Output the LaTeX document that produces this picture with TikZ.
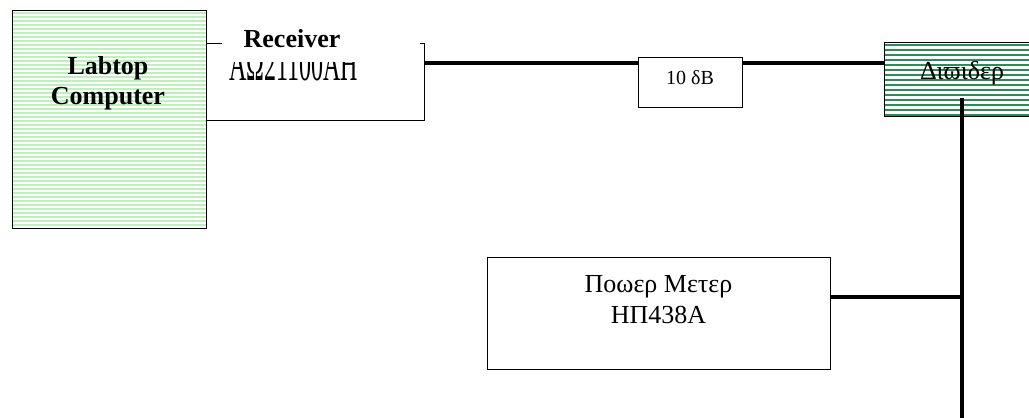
\documentclass[tikz,border=0pt]{standalone}
\usepackage{fontspec}
\setmainfont{Liberation Serif}
\usetikzlibrary{positioning}

\definecolor{verdepallido}{RGB}{190,240,190}
\definecolor{verdemare}{RGB}{46,139,87}

\begin{document}
\begin{tikzpicture}[
  x=1pt, y=-1pt,
  font=\fontsize{26}{31}\selectfont,
  box/.style={draw=black, line width=1pt, inner sep=0pt, fill=white},
  wire/.style={draw=black, line width=3.5pt},
  label/.style={inner sep=1pt, align=center},
  pcbox/.style={box, path picture={
      \foreach \k in {1,...,56}{
        \draw[verdepallido, line width=2pt]
          ([yshift={-4pt*\k+1pt}]path picture bounding box.north west) --
          ([yshift={-4pt*\k+1pt}]path picture bounding box.north east);}}},
  splitbox/.style={box, path picture={
      \foreach \k in {1,...,16}{
        \draw[verdemare, line width=2.6pt]
          ([yshift={-5pt*\k+2pt}]path picture bounding box.north west) --
          ([yshift={-5pt*\k+2pt}]path picture bounding box.north east);}}}
]
\useasboundingbox (0,0) rectangle (1029,418);

%--------------------------------------------------------------
% Computer portatile
%--------------------------------------------------------------
\node[pcbox, minimum width=194pt, minimum height=218pt] (laptop) at (109,119) {};
\node[label, font=\fontsize{26}{30}\selectfont\bfseries] (laptoptxt) at (108,83) {Labtop\\Computer};

%--------------------------------------------------------------
% Ricevitore
%--------------------------------------------------------------
\node[box, minimum width=218pt, minimum height=77pt] (receiver) at (315,81.5) {};
\node[label, anchor=base, font=\fontsize{24}{28}\selectfont, yscale=2] (rxmodel) at (293.5,80) {ΑΩ21100ΑΗ};
\fill[white] (222,26) rectangle (420,62);
\node[label, font=\fontsize{26}{30}\selectfont\bfseries, anchor=base] (rxlabel) at (292,47) {Receiver};

%--------------------------------------------------------------
% Attenuatore e divisore
%--------------------------------------------------------------
\node[box, minimum width=104pt, minimum height=50pt] (atten) at (690,82) {};
\node[label, font=\fontsize{20}{24}\selectfont] (attentxt) at ([yshift=4pt]atten.center) {10 δB};
\node[splitbox, minimum width=156pt, minimum height=74pt] (divider) at (962,79) {};
\node[label] (dividertxt) at ([yshift=6pt]divider.center) {Διϖιδερ};

%--------------------------------------------------------------
% Misuratore di potenza
%--------------------------------------------------------------
\node[box, minimum width=343pt, minimum height=112pt] (meter) at (658.5,313) {};
\node[label] (metertxt) at ([yshift=13pt]meter.center) {Ποωερ Μετερ\\ΗΠ438Α};

%--------------------------------------------------------------
% Collegamenti
%--------------------------------------------------------------
\coordinate (bus) at (0,63);
\coordinate (bottom) at (962,418);
\draw[wire] (receiver.east |- bus) -- (atten.west |- bus);
\draw[wire] (atten.east |- bus) -- (divider.west |- bus);
\draw[wire] ([yshift=19pt]divider.south) -- (bottom);
\draw[wire] ([yshift=16pt]meter.east) coordinate (tap) -- (tap -| bottom);

\end{tikzpicture}
\end{document}
